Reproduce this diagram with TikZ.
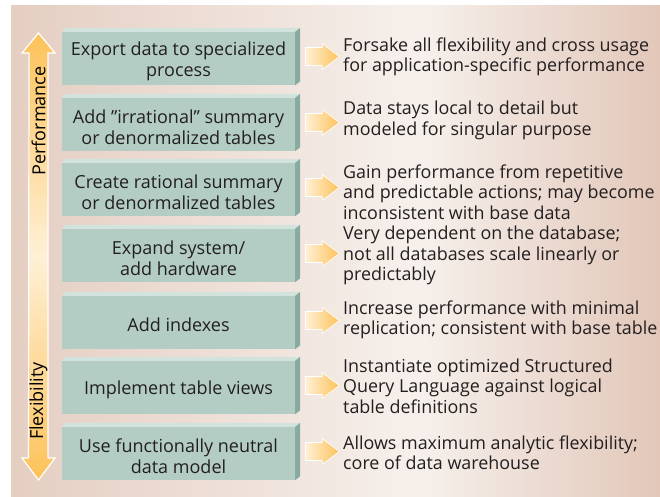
\documentclass[tikz,border=0pt]{standalone}
\usepackage{fontspec}
\setmainfont{Open Sans}
\newfontfamily\notefont{Open Sans}
\definecolor{bgL}{HTML}{E5CEC2}
\definecolor{bgM}{HTML}{F6F0EC}
\definecolor{bgR}{HTML}{E2C7B9}
\definecolor{face}{HTML}{B3CDC4}
\definecolor{facetop}{HTML}{D2E3DD}
\definecolor{faceside}{HTML}{88AB9F}
\definecolor{orD}{HTML}{FDC25A}
\definecolor{orL}{HTML}{FEF0D6}
\definecolor{ink}{HTML}{231F20}
\begin{document}
\begin{tikzpicture}[x=1pt,y=-1pt,
  stepbox/.style={fill=face, minimum width=233pt, minimum height=53pt, inner sep=0pt},
  steptext/.style={inner sep=0pt, align=center, font=\fontsize{18}{21}\selectfont, text=ink},
  note/.style={anchor=west, align=left, inner sep=0pt, font=\notefont\fontsize{17.9}{20.3}\selectfont, text=ink},
  pointer/.style={left color=orL, right color=orD, draw=white, line width=0.6pt},
  axislabel/.style={rotate=90, inner sep=0pt, font=\fontsize{18}{20}\selectfont, text=black},
]
\useasboundingbox (0,0) rectangle (660,497);
\clip (0,0) rectangle (660,497);
% background
\fill[left color=bgL, right color=bgM] (11,6) rectangle (420,497);
\fill[left color=bgM, right color=bgR] (419.5,6) rectangle (660,497);

% big double arrow
\coordinate (ptop) at (38.5,33);
\coordinate (pbot) at (38.5,480);
\path[draw=white, line width=1.2pt, top color=orD, bottom color=orD, middle color=orL]
  (ptop) -- ++(16.5,20) -- ++(-7,0) |- ([yshift=22pt]pbot -| 47.5,0) -- ++(7.5,0) -- (pbot)
  -- ++(-16.5,-22) -- ++(6.5,0) -- ([yshift=-20pt]ptop -| 29,0) -- ++(-7,0) -- cycle;
\node[axislabel] (perf) at (38.5,121) {Performance};
\node[axislabel] (flex) at (38.5,401) {Flexibility};

% boxes
\newcommand\stepat[3]{%
  \node[stepbox] (b#1) at (178.5,#2) {};
  \fill[facetop] (b#1.north west) -- ++(4,-4) -- ([xshift=5pt,yshift=4pt]b#1.north east) -- (b#1.north east) -- cycle;
  \fill[faceside] (b#1.north east) -- ([xshift=5pt,yshift=4pt]b#1.north east) -- ([xshift=5pt,yshift=4pt]b#1.south east) -- (b#1.south east) -- cycle;
  \path[pointer] ([xshift=10pt,yshift=2pt]b#1.east) ++(0,-9) -- ++(17,0) -- ++(0,-4) -- ++(17,13) -- ++(-17,13) -- ++(0,-4) -- ++(-17,0) -- cycle;
  \node[steptext] (t#1) at ([yshift=-2.5pt]b#1.center) {#3};
}
\stepat{1}{58.5}{Export data to specialized\\process}
\stepat{2}{124.5}{Add "irrational" summary\\or denormalized tables}
\stepat{3}{189.5}{Create rational summary\\or denormalized tables}
\stepat{4}{255.5}{Expand system/\\add hardware}
\stepat{5}{322.5}{Add indexes}
\stepat{6}{387.5}{Implement table views}
\stepat{7}{453.5}{Use functionally neutral\\data model}

% notes
\node[note] (n1) at (343,57) {Forsake all flexibility and cross usage\\for application-specific performance};
\node[note] (n2) at (343,120.5) {Data stays local to detail but\\modeled for singular purpose};
\node[note] (n3) at (343,192) {Gain performance from repetitive\\and predictable actions; may become\\inconsistent with base data};
\node[note] (n4) at (343,255.5) {Very dependent on the database;\\not all databases scale linearly or\\predictably};
\node[note] (n5) at (343,320) {Increase performance with minimal\\replication; consistent with base table};
\node[note] (n6) at (343,386) {Instantiate optimized Structured\\Query Language against logical\\table definitions};
\node[note] (n7) at (343,452.5) {Allows maximum analytic flexibility;\\core of data warehouse};
\end{tikzpicture}
\end{document}
